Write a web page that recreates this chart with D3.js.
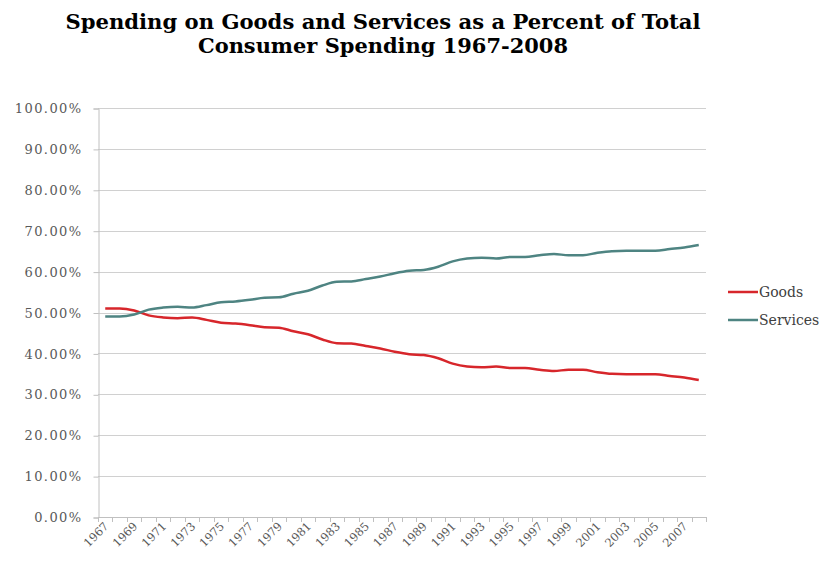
<!DOCTYPE html>
<html>
<head>
<meta charset="utf-8">
<script src="https://cdn.jsdelivr.net/npm/d3@7"></script>
<style>
  body { margin: 0; background: #fff; }
  svg { display: block; }
</style>
</head>
<body>
<svg id="chart" width="820" height="564"></svg>
<script>
const years = d3.range(1967, 2009).map(String);
const goods = [51.0, 51.0, 50.5, 49.3, 48.8, 48.6, 48.8, 48.2, 47.5, 47.3,
               46.9, 46.4, 46.3, 45.4, 44.7, 43.4, 42.5, 42.4, 41.8, 41.2,
               40.4, 39.8, 39.6, 38.8, 37.5, 36.8, 36.6, 36.8, 36.4, 36.4,
               36.0, 35.7, 36.0, 36.0, 35.4, 35.0, 34.9, 34.9, 34.9, 34.5,
               34.1, 33.5];
const services = [49.0, 49.0, 49.5, 50.7, 51.2, 51.4, 51.2, 51.8, 52.5, 52.7,
                  53.1, 53.6, 53.7, 54.6, 55.3, 56.6, 57.5, 57.6, 58.2, 58.8,
                  59.6, 60.2, 60.4, 61.2, 62.5, 63.2, 63.4, 63.2, 63.6, 63.6,
                  64.0, 64.3, 64.0, 64.0, 64.6, 65.0, 65.1, 65.1, 65.1, 65.5,
                  65.9, 66.5];
const yTicks = [0, 10, 20, 30, 40, 50, 60, 70, 80, 90, 100];
const seriesNames = ["Goods", "Services"];
const seriesColors = ["#d7262b", "#4e8482"];
const titleLines = ["Spending on Goods and Services as a Percent of Total",
                    "Consumer Spending 1967-2008"];

const svg = d3.select("#chart");
const mLeft = 98, mRight = 706, mTop = 108, mBottom = 517;
const font = "'DejaVu Serif', 'Liberation Serif', serif";

const x = d3.scaleBand().domain(years).range([mLeft, mRight]).paddingInner(0).paddingOuter(0);
const y = d3.scaleLinear().domain([0, 100]).range([mBottom, mTop]);

// Title
const titleWidths = [635, 370];
svg.append("g").selectAll("text").data(titleLines).join("text")
  .attr("x", 383).attr("y", (d, i) => 29 + i * 24)
  .attr("text-anchor", "middle")
  .attr("font-family", font).attr("font-weight", "bold")
  .attr("font-size", 21).attr("fill", "#000")
  .attr("textLength", (d, i) => titleWidths[i])
  .attr("lengthAdjust", "spacingAndGlyphs")
  .text(d => d);

// Gridlines
svg.append("g").selectAll("line").data(yTicks.filter(t => t > 0)).join("line")
  .attr("x1", mLeft).attr("x2", mRight)
  .attr("y1", d => Math.round(y(d)) + 0.5).attr("y2", d => Math.round(y(d)) + 0.5)
  .attr("stroke", "#d0d0d0").attr("stroke-width", 1);

// Y axis
const yAxis = d3.axisLeft(y).tickValues(yTicks).tickSize(5)
  .tickFormat(d => d3.format(".2f")(d) + "%");
const gy = svg.append("g").attr("transform", `translate(${mLeft + 0.5},0.5)`).call(yAxis);
gy.attr("font-size", null).attr("font-family", null);
gy.select(".domain").attr("stroke", "#c0c0c0");
gy.selectAll(".tick line").attr("stroke", "#c0c0c0");
gy.selectAll(".tick text").attr("x", -16)
  .style("font-family", font).style("font-size", "13px").style("letter-spacing", "1.4px")
  .attr("fill", "#595959");

// X axis line and ticks at category boundaries
const gx = svg.append("g");
gx.append("line").attr("x1", mLeft).attr("x2", mRight)
  .attr("y1", mBottom + 0.5).attr("y2", mBottom + 0.5).attr("stroke", "#c0c0c0");
const boundaries = years.map(d => x(d)).concat([x(years[years.length - 1]) + x.bandwidth()]);
gx.selectAll("line.tk").data(boundaries).join("line").attr("class", "tk")
  .attr("x1", d => Math.round(d) + 0.5).attr("x2", d => Math.round(d) + 0.5)
  .attr("y1", mBottom).attr("y2", mBottom + 5).attr("stroke", "#c0c0c0");
gx.selectAll("text").data(years.filter((d, i) => i % 2 === 0)).join("text")
  .attr("transform", d => `translate(${x(d) + x.bandwidth() / 2 + 4},${mBottom + 10}) rotate(-45)`)
  .attr("text-anchor", "end")
  .style("font-family", font).style("font-size", "11.5px")
  .attr("fill", "#595959")
  .text(d => d);

// Lines
const data = [goods, services];
const line = d3.line()
  .x((d, i) => x(years[i]) + x.bandwidth() / 2)
  .y(d => y(d))
  .curve(d3.curveMonotoneX);
svg.append("g").selectAll("path").data(data).join("path")
  .attr("d", d => line(d))
  .attr("fill", "none")
  .attr("stroke", (d, i) => seriesColors[i])
  .attr("stroke-width", 2.5)
  .attr("stroke-linejoin", "round");

// Legend
const lg = svg.append("g").selectAll("g").data(seriesNames).join("g")
  .attr("transform", (d, i) => `translate(728,${292 + i * 28})`);
lg.append("line").attr("x1", 0).attr("x2", 30).attr("y1", 0).attr("y2", 0)
  .attr("stroke", (d, i) => seriesColors[i]).attr("stroke-width", 2.5);
lg.append("text").attr("x", 31).attr("y", 5)
  .style("font-family", font).style("font-size", "14px").attr("fill", "#404040")
  .text(d => d);
</script>
</body>
</html>
